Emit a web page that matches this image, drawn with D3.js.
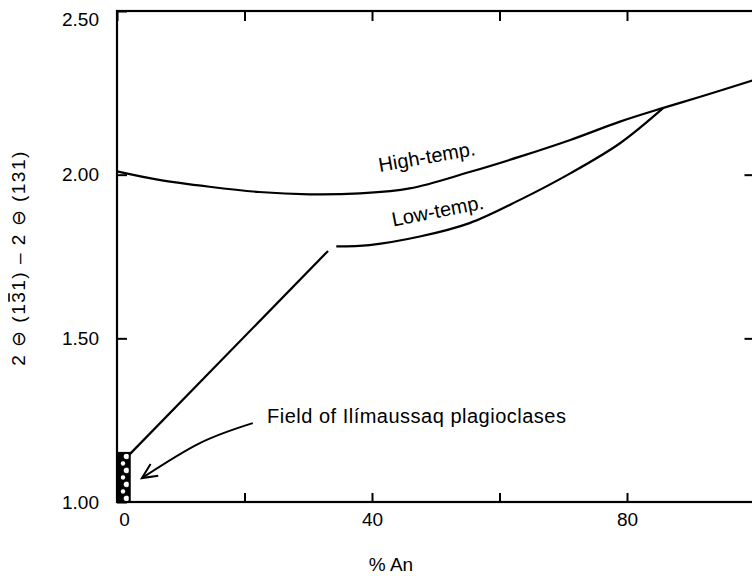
<!DOCTYPE html>
<html>
<head>
<meta charset="utf-8">
<script src="https://cdn.jsdelivr.net/npm/d3@7/dist/d3.min.js"></script>
<style>
  html, body { margin: 0; padding: 0; background: #fff; }
  svg { display: block; font-family: "Liberation Sans", Arial, Helvetica, sans-serif; }
</style>
</head>
<body>
<svg id="chart" width="752" height="576"></svg>
<script>
// Plagioclase 2θ(1-31) − 2θ(131) versus anorthite content
const highTempAn  = [0, 6.6, 14.5, 22.3, 30.2, 38.1, 45.9, 55.3, 63.2, 71.1, 78.9, 85.7, 91.5, 100];
const highTempVal = [2.010, 1.984, 1.963, 1.947, 1.940, 1.943, 1.958, 2.008, 2.055, 2.106, 2.162, 2.204, 2.238, 2.29];

const lowTempAn   = [34.4, 39.6, 47.5, 55.3, 63.2, 71.1, 78.9, 85.7];
const lowTempVal  = [1.781, 1.785, 1.811, 1.852, 1.923, 2.004, 2.096, 2.204];

const linkAn      = [1.9, 33.1];
const linkVal     = [1.144, 1.767];

const fieldAn     = [0, 2];
const fieldVal    = [1.00, 1.15];

const arrowAn     = [21.3, 13.0, 3.9];
const arrowVal    = [1.241, 1.180, 1.073];

const xTicks      = [0, 20, 40, 60, 80, 100];
const xTickLabels = [0, 40, 80];
const yTicks      = [1.00, 1.50, 2.00, 2.50];

const svg = d3.select("#chart");
const x = d3.scaleLinear().domain([0, 100]).range([117, 754.5]);
const y = d3.scaleLinear().domain([1, 2.5]).range([502, 11]);

const zip = (a, b) => a.map((v, i) => [v, b[i]]);
const line = d3.line().x(d => x(d[0])).y(d => y(d[1]));

// defs: mottled fill for the Ilímaussaq field, open arrowhead
const defs = svg.append("defs");
const pat = defs.append("pattern").attr("id", "stipple")
  .attr("patternUnits", "userSpaceOnUse").attr("width", 12).attr("height", 14)
  .attr("x", x(0)).attr("y", y(1.15));
pat.append("rect").attr("width", 12).attr("height", 14).attr("fill", "#000");
pat.append("circle").attr("cx", 9.5).attr("cy", 3.5).attr("r", 2.8).attr("fill", "#fff");
pat.append("circle").attr("cx", 6).attr("cy", 10.5).attr("r", 2.2).attr("fill", "#fff");

defs.append("marker").attr("id", "openArrow")
  .attr("markerUnits", "userSpaceOnUse")
  .attr("viewBox", "-16 -9 18 18").attr("markerWidth", 18).attr("markerHeight", 18)
  .attr("refX", 0).attr("refY", 0).attr("orient", "auto")
  .append("path").attr("d", "M-15,-7 L0,0 L-15,7")
  .attr("fill", "none").attr("stroke", "#000").attr("stroke-width", 2);

// axes with inward ticks
const fontSize = 19;
const axBottom = svg.append("g").attr("transform", `translate(0,${y(1)})`)
  .call(d3.axisBottom(x).tickValues(xTicks).tickSizeInner(-9).tickSizeOuter(0).tickPadding(11)
    .tickFormat(d => xTickLabels.includes(d) ? d : ""));
const axTop = svg.append("g").attr("transform", `translate(0,${y(2.5)})`)
  .call(d3.axisTop(x).tickValues(xTicks).tickSizeInner(-10).tickSizeOuter(0).tickFormat(""));
const axLeft = svg.append("g").attr("transform", `translate(${x(0)},0)`)
  .call(d3.axisLeft(y).tickValues(yTicks).tickSizeInner(-10).tickSizeOuter(0).tickPadding(18)
    .tickFormat(d3.format(".2f")));
const axRight = svg.append("g").attr("transform", `translate(${x(100)},0)`)
  .call(d3.axisRight(y).tickValues([1.5, 2.0]).tickSizeInner(-10).tickSizeOuter(0).tickFormat(""));

[axBottom, axTop, axLeft, axRight].forEach(g => {
  g.select(".domain").remove();
  g.selectAll(".tick line").attr("stroke", "#000").attr("stroke-width", 2);
  g.selectAll(".tick text").attr("font-size", fontSize).attr("fill", "#000")
    .attr("font-family", "Liberation Sans, Arial, sans-serif");
});
axLeft.selectAll(".tick").filter(d => d === 2.5).select("text").attr("dy", "0.75em");
axBottom.selectAll(".tick").filter(d => d === 0).select("text").attr("dx", 7);

// plot frame
svg.append("rect")
  .attr("x", x(0)).attr("y", y(2.5))
  .attr("width", x(100) - x(0)).attr("height", y(1) - y(2.5))
  .attr("fill", "none").attr("stroke", "#000").attr("stroke-width", 2.2);

// field of Ilímaussaq plagioclases
svg.append("rect")
  .attr("x", x(fieldAn[0])).attr("y", y(fieldVal[1]))
  .attr("width", x(fieldAn[1]) - x(fieldAn[0])).attr("height", y(fieldVal[0]) - y(fieldVal[1]))
  .attr("fill", "url(#stipple)").attr("stroke", "#000").attr("stroke-width", 2);

// curves
const curveStyle = sel => sel.attr("fill", "none").attr("stroke", "#000")
  .attr("stroke-width", 2.2).attr("stroke-linejoin", "round");

svg.append("path").datum(zip(highTempAn, highTempVal))
  .attr("d", line.curve(d3.curveCatmullRom.alpha(0.5))).call(curveStyle);
svg.append("path").datum(zip(lowTempAn, lowTempVal))
  .attr("d", line.curve(d3.curveCatmullRom.alpha(0.5))).call(curveStyle);
svg.append("path").datum(zip(linkAn, linkVal))
  .attr("d", line.curve(d3.curveLinear)).call(curveStyle);

// arrow to the field
svg.append("path").datum(zip(arrowAn, arrowVal))
  .attr("d", line.curve(d3.curveNatural))
  .attr("fill", "none").attr("stroke", "#000").attr("stroke-width", 2)
  .attr("marker-end", "url(#openArrow)");

// curve labels
svg.append("text").attr("transform", "translate(428,163.5) rotate(-10)")
  .attr("text-anchor", "middle").attr("font-size", 20).text("High-temp.");
svg.append("text").attr("transform", "translate(439,217.5) rotate(-11)")
  .attr("text-anchor", "middle").attr("font-size", 20).text("Low-temp.");

svg.append("text").attr("x", 267).attr("y", 423)
  .attr("font-size", 20).attr("letter-spacing", 0.5)
  .text("Field of Ilímaussaq plagioclases");

// axis titles
svg.append("text").attr("x", 391).attr("y", 571).attr("text-anchor", "middle")
  .attr("font-size", fontSize).text("% An");

// y title: 2⊖(1 3̄ 1) − 2⊖(131), with the bar over the 3 drawn as a rule
const yTitle = svg.append("g").attr("transform", "translate(25,258) rotate(-90)");
const yText = yTitle.append("text")
  .attr("text-anchor", "middle").attr("font-size", fontSize).attr("letter-spacing", 1.5)
  .text("2 \u2296 (131) \u2013 2 \u2296 (131)");
const bar = yText.node().getExtentOfChar(6);
yTitle.append("line")
  .attr("x1", bar.x + 1).attr("x2", bar.x + bar.width - 2.5)
  .attr("y1", bar.y + 1).attr("y2", bar.y + 1)
  .attr("stroke", "#000").attr("stroke-width", 1.6);
</script>
</body>
</html>
